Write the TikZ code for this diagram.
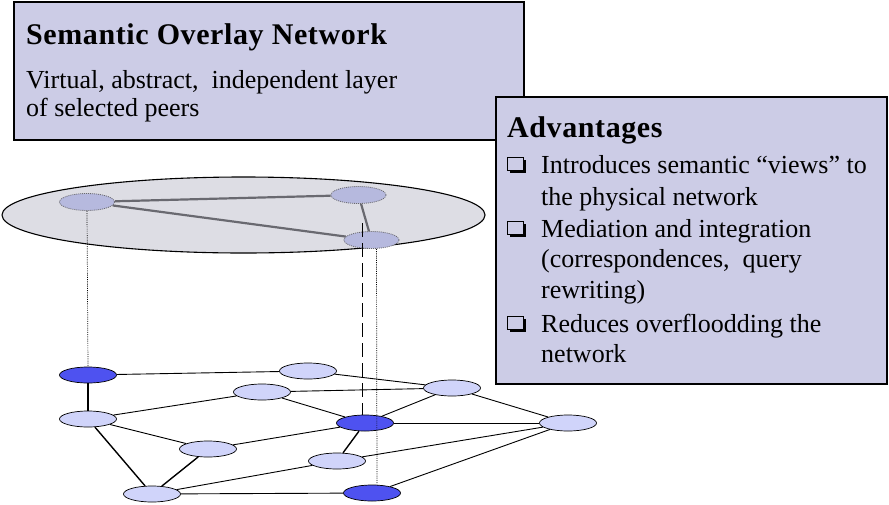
\documentclass[tikz,border=0pt]{standalone}
\usepackage{fontspec}
\setmainfont{Liberation Serif}
\newfontfamily\titlefont[LetterSpace=2]{Liberation Serif}
\usetikzlibrary{shapes.geometric}
\definecolor{boxfill}{RGB}{204,204,230}
\definecolor{layerfill}{RGB}{221,221,228}
\definecolor{ovfill}{RGB}{182,185,222}
\definecolor{lightpeer}{RGB}{208,212,250}
\definecolor{darkpeer}{RGB}{78,82,240}
\definecolor{ovedge}{RGB}{105,105,112}
\begin{document}
\begin{tikzpicture}[x=1pt,y=-1pt,
  infobox/.style={draw=black,line width=1.3pt,fill=boxfill},
  headtext/.style={anchor=base west,inner sep=0pt,font=\titlefont\bfseries\fontsize{30}{32}\selectfont},
  bodytext/.style={anchor=base west,inner sep=0pt,font=\fontsize{26}{30}\selectfont},
  peer/.style={ellipse,draw=black,line width=0.7pt,fill=lightpeer,minimum width=57pt,minimum height=16pt,inner sep=0pt},
  darkp/.style={peer,fill=darkpeer},
  ovpeer/.style={ellipse,draw=ovedge,dash pattern=on 1pt off 1pt,line width=0.8pt,fill=ovfill,minimum width=55pt,minimum height=17pt,inner sep=0pt},
  link/.style={draw=black,line width=0.9pt},
  ovlink/.style={draw=ovedge,line width=2.2pt},
  vdot/.style={draw=black,line width=0.7pt,dash pattern=on 1pt off 1.2pt},
  vdash/.style={draw=black,line width=0.7pt,dash pattern=on 14pt off 6pt}]
\useasboundingbox (0,0) rectangle (889,504);

% overlay layer
\draw[fill=layerfill,draw=black,line width=1.1pt] (243.5,215) ellipse [x radius=241.5pt, y radius=38pt];
\node[ovpeer] (A) at (87,202) {};
\node[ovpeer] (B) at (358.5,195) {};
\node[ovpeer] (C) at (371.5,240) {};
\draw[ovlink] (A) -- (B);
\draw[ovlink] (A) -- (C);
\draw[ovlink] (B) -- (C);

% physical peers
\node[darkp] (N1) at (88,375) {};
\node[peer]  (N2) at (308,371) {};
\node[peer]  (N3) at (452,388) {};
\node[peer]  (N4) at (262,392) {};
\node[peer]  (N5) at (88,419) {};
\node[darkp] (N6) at (365,423) {};
\node[peer]  (N7) at (568,423) {};
\node[peer]  (N8) at (208,449) {};
\node[peer]  (N9) at (337,461) {};
\node[peer]  (N10) at (152,494) {};
\node[darkp] (N11) at (372,493) {};

% vertical projections
\coordinate (d1) at (362,223);
\draw[vdot] (A.south) -- (N1.north);
\draw[vdot] ([xshift=5pt]C.south) -- ([xshift=5pt]N11.north);
\draw[vdash] (d1) -- ([xshift=-3pt]N6.north);

% physical links
\draw[link] (N1) -- (N2);
\draw[link,line width=2.5pt] (N1) -- (N5);
\draw[link] (N2) -- (N3);
\draw[link] (N4) -- (N3);
\draw[link] (N4) -- (N5);
\draw[link] (N4) -- (N6);
\draw[link] (N5) -- (N8);
\draw[link,line width=1.4pt] (N5) -- (N10);
\draw[link] (N3) -- (N6);
\draw[link] (N3) -- (N7);
\draw[link] (N6) -- (N7);
\draw[link] (N6) -- (N8);
\draw[link,line width=1.4pt] (N6) -- (N9);
\draw[link,line width=1.4pt] (N8) -- (N10);
\draw[link] (N10) -- (N9);
\draw[link] (N10) -- (N11);
\draw[link] (N9) -- (N7);
\draw[link] (N11) -- (N7);

% box 1
\draw[infobox] (14,2) rectangle (524,140);
\node[headtext] (t1) at (26,44) {Semantic Overlay Network};
\node[bodytext] (t2) at (26,88) {Virtual, abstract,\ \ independent layer};
\node[bodytext] (t3) at (26,116) {of selected peers};

% box 2
\draw[infobox] (496,97) rectangle (887,384);
\node[headtext] (h2) at (507,137) {Advantages};
\foreach \yb in {173,237,332} {
  \fill[black] (510,\yb-13) rectangle (526,\yb);
  \draw[fill=boxfill,draw=black,line width=0.9pt] (507,\yb-16) rectangle (523,\yb-3);
}
\node[bodytext] (a1) at (541,173) {Introduces semantic “views” to};
\node[bodytext] (a2) at (541,205) {the physical network};
\node[bodytext] (a3) at (541,237) {Mediation and integration};
\node[bodytext] (a4) at (541,267) {(correspondences,\ \ query};
\node[bodytext] (a5) at (541,298) {rewriting)};
\node[bodytext] (a6) at (541,332) {Reduces overfloodding the};
\node[bodytext] (a7) at (541,362) {network};
\end{tikzpicture}
\end{document}
